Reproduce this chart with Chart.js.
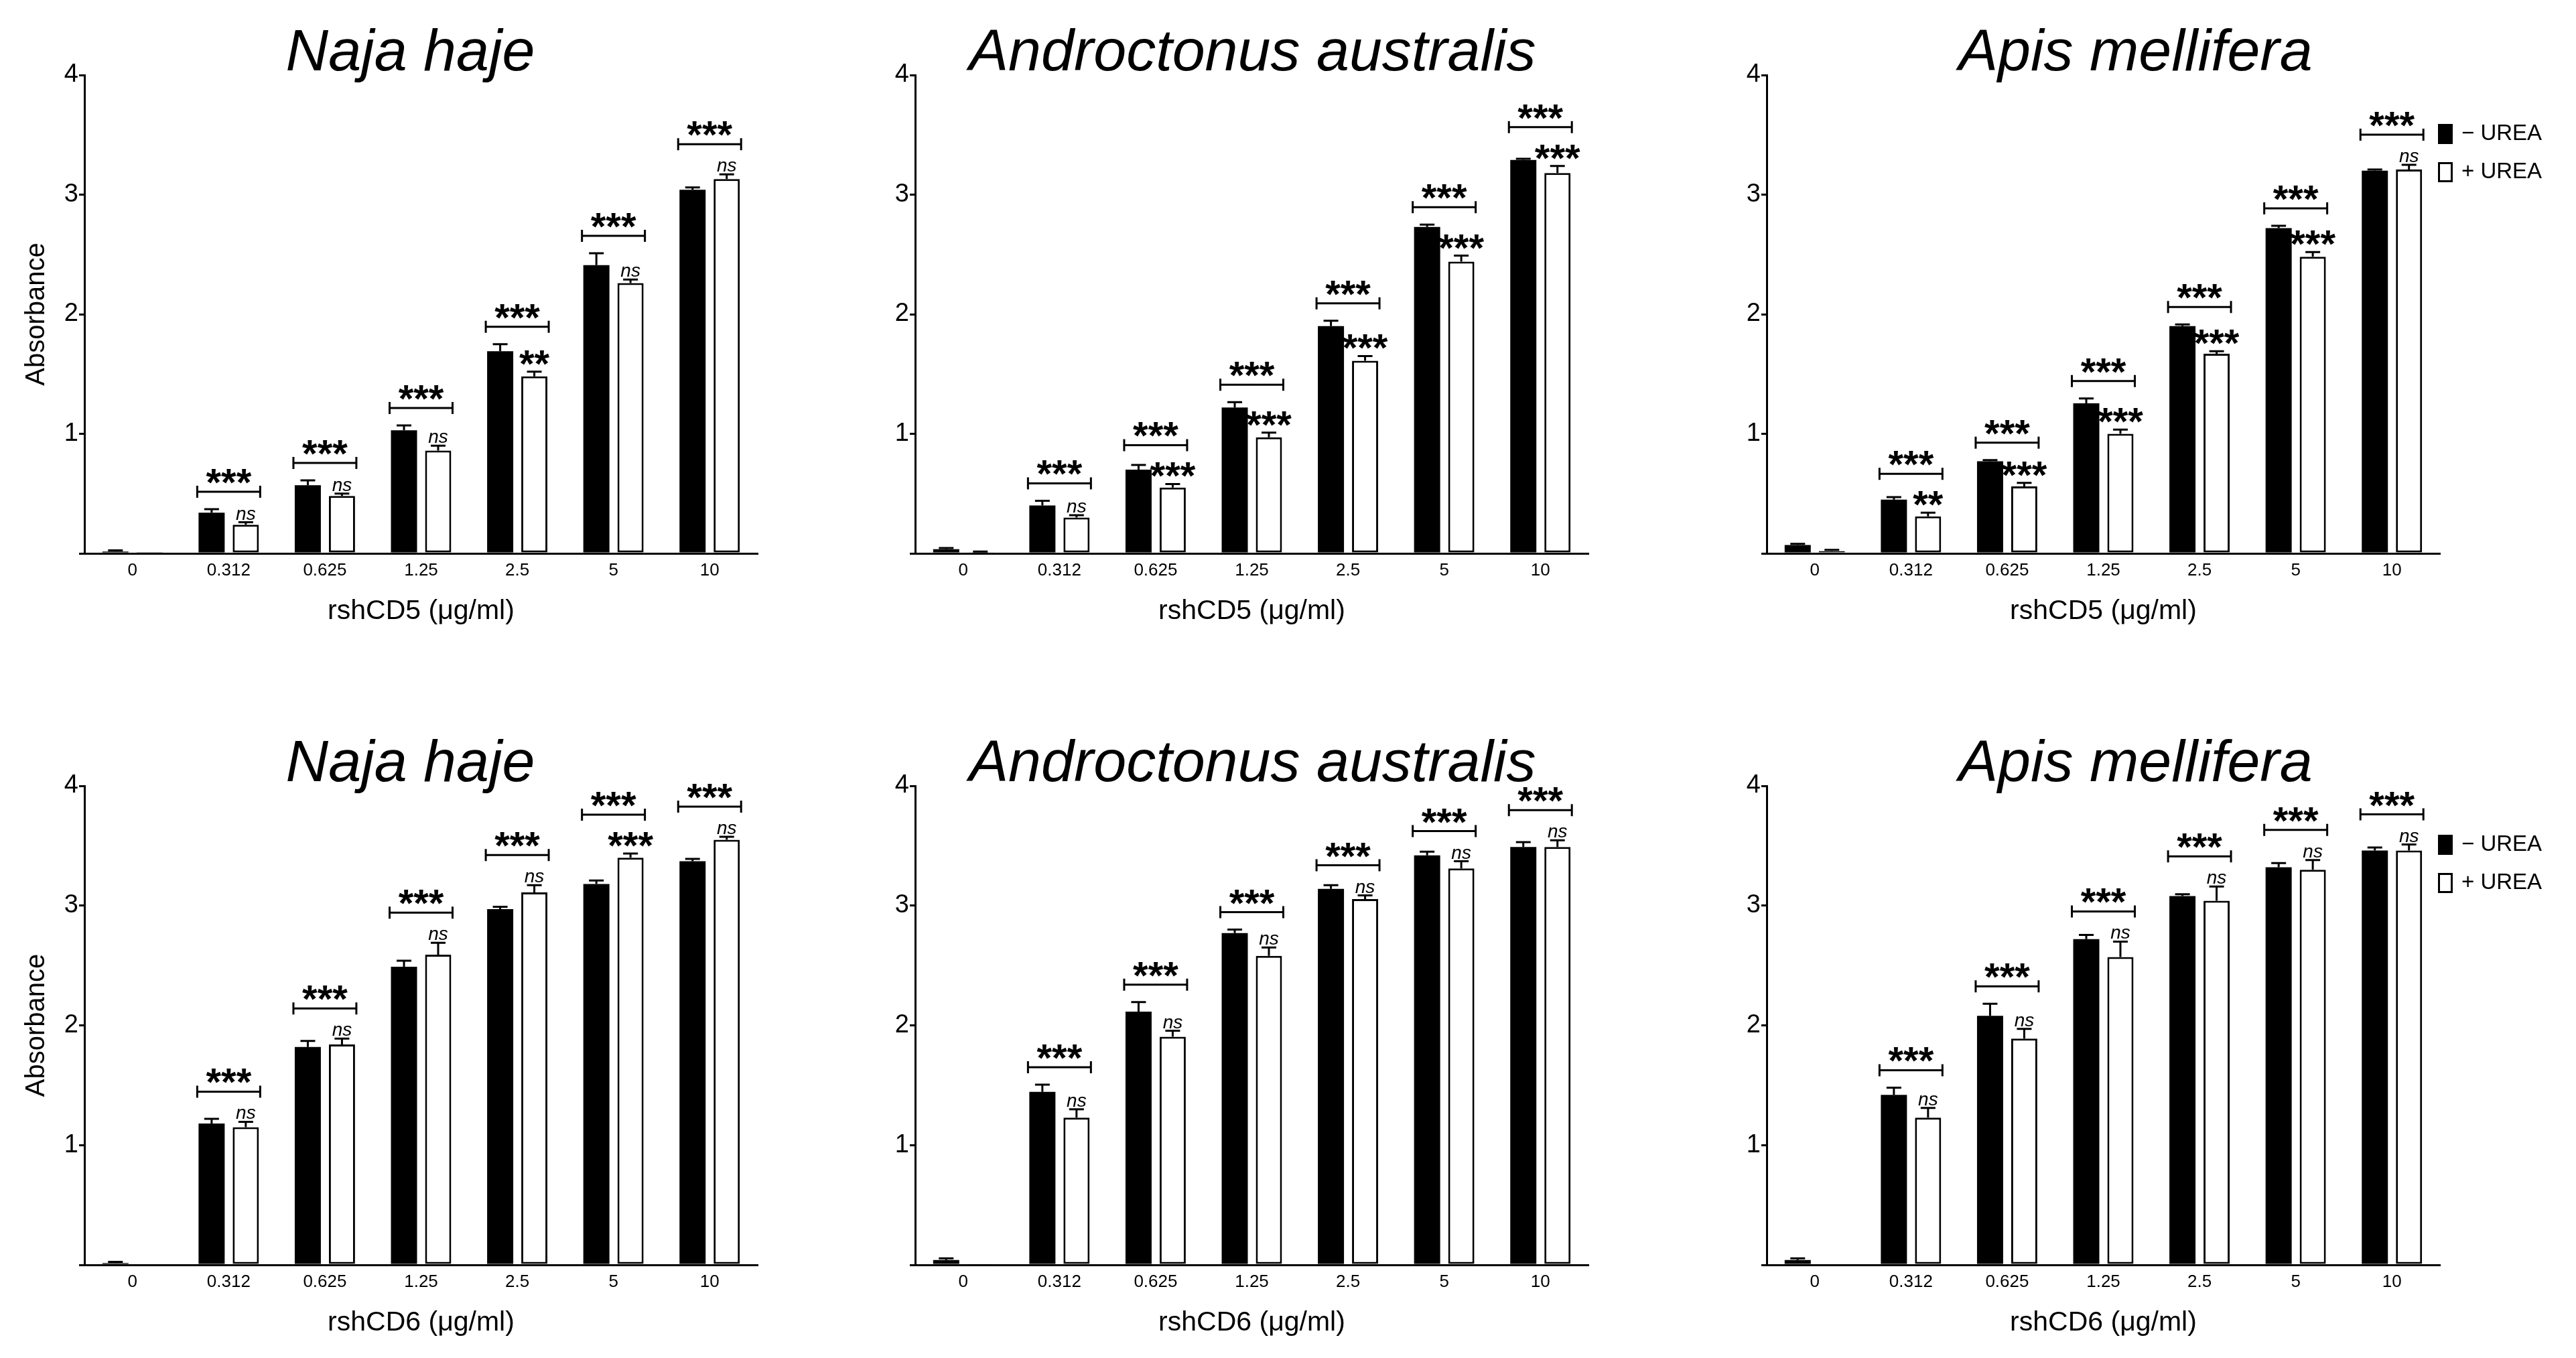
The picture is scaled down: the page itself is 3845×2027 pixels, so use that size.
<!DOCTYPE html>
<html lang="en">
<head>
    <meta charset="UTF-8">
    <title>rshCD5 / rshCD6 - Absorbance</title>
    <script src="https://cdn.jsdelivr.net/npm/chart.js"></script>
    <style>
        html, body { margin: 0; padding: 0; background: #fff; overflow: hidden; }
        #page { position: relative; width: 3845px; height: 2027px; background: #fff; }
        canvas { position: absolute; }
    </style>
</head>
<body>
<div id="page"></div>
<script>
// Categories and labels
const doses = ['0', '0.312', '0.625', '1.25', '2.5', '5', '10'];
const yTicks = [1, 2, 3, 4];
const seriesLabels = ['\u2212 UREA', '+ UREA'];
const species = ['Naja haje', 'Androctonus australis', 'Apis mellifera'];
const xTitles = ['rshCD5 (\u03bcg/ml)', 'rshCD6 (\u03bcg/ml)'];
const pairSig = ['', '***', '***', '***', '***', '***', '***'];

// rshCD5 - Naja haje
const najaCD5Minus = [0.015, 0.34, 0.57, 1.03, 1.69, 2.41, 3.04];
const najaCD5MinusErr = [0.01, 0.03, 0.04, 0.04, 0.06, 0.10, 0.02];
const najaCD5Plus = [0.005, 0.24, 0.48, 0.86, 1.48, 2.26, 3.13];
const najaCD5PlusErr = [0, 0.02, 0.02, 0.04, 0.04, 0.03, 0.04];
const najaCD5Sig = ['', 'ns', 'ns', 'ns', '**', 'ns', 'ns'];

// rshCD5 - Androctonus australis
const andrCD5Minus = [0.035, 0.40, 0.70, 1.22, 1.90, 2.73, 3.29];
const andrCD5MinusErr = [0.01, 0.04, 0.04, 0.045, 0.045, 0.02, 0.01];
const andrCD5Plus = [0.01, 0.30, 0.55, 0.97, 1.61, 2.44, 3.18];
const andrCD5PlusErr = [0.005, 0.02, 0.03, 0.04, 0.04, 0.05, 0.06];
const andrCD5Sig = ['', 'ns', '***', '***', '***', '***', '***'];

// rshCD5 - Apis mellifera
const apisCD5Minus = [0.07, 0.45, 0.77, 1.255, 1.90, 2.72, 3.20];
const apisCD5MinusErr = [0.01, 0.02, 0.01, 0.04, 0.015, 0.02, 0.01];
const apisCD5Plus = [0.02, 0.31, 0.56, 1.00, 1.67, 2.48, 3.21];
const apisCD5PlusErr = [0.01, 0.03, 0.03, 0.035, 0.02, 0.04, 0.04];
const apisCD5Sig = ['', '**', '***', '***', '***', '***', 'ns'];

// rshCD6 - Naja haje
const najaCD6Minus = [0.015, 1.18, 1.82, 2.49, 2.97, 3.18, 3.37];
const najaCD6MinusErr = [0.01, 0.04, 0.05, 0.05, 0.02, 0.03, 0.02];
const najaCD6Plus = [0, 1.15, 1.84, 2.59, 3.11, 3.40, 3.55];
const najaCD6PlusErr = [0, 0.045, 0.05, 0.10, 0.06, 0.035, 0.025];
const najaCD6Sig = ['', 'ns', 'ns', 'ns', 'ns', '***', 'ns'];

// rshCD6 - Androctonus australis
const andrCD6Minus = [0.04, 1.445, 2.115, 2.77, 3.14, 3.42, 3.49];
const andrCD6MinusErr = [0.015, 0.06, 0.08, 0.03, 0.03, 0.03, 0.04];
const andrCD6Plus = [0.01, 1.23, 1.905, 2.58, 3.055, 3.31, 3.49];
const andrCD6PlusErr = [0, 0.07, 0.05, 0.07, 0.03, 0.06, 0.055];
const andrCD6Sig = ['', 'ns', 'ns', 'ns', 'ns', 'ns', 'ns'];

// rshCD6 - Apis mellifera
const apisCD6Minus = [0.04, 1.42, 2.08, 2.72, 3.08, 3.32, 3.46];
const apisCD6MinusErr = [0.015, 0.06, 0.10, 0.035, 0.015, 0.035, 0.025];
const apisCD6Plus = [0, 1.23, 1.89, 2.57, 3.04, 3.30, 3.46];
const apisCD6PlusErr = [0, 0.08, 0.08, 0.13, 0.12, 0.08, 0.05];
const apisCD6Sig = ['', 'ns', 'ns', 'ns', 'ns', 'ns', 'ns'];

const panels = [
    { row: 0, col: 0, minus: najaCD5Minus, minusErr: najaCD5MinusErr, plus: najaCD5Plus, plusErr: najaCD5PlusErr, sig: najaCD5Sig },
    { row: 0, col: 1, minus: andrCD5Minus, minusErr: andrCD5MinusErr, plus: andrCD5Plus, plusErr: andrCD5PlusErr, sig: andrCD5Sig },
    { row: 0, col: 2, minus: apisCD5Minus, minusErr: apisCD5MinusErr, plus: apisCD5Plus, plusErr: apisCD5PlusErr, sig: apisCD5Sig },
    { row: 1, col: 0, minus: najaCD6Minus, minusErr: najaCD6MinusErr, plus: najaCD6Plus, plusErr: najaCD6PlusErr, sig: najaCD6Sig },
    { row: 1, col: 1, minus: andrCD6Minus, minusErr: andrCD6MinusErr, plus: andrCD6Plus, plusErr: andrCD6PlusErr, sig: andrCD6Sig },
    { row: 1, col: 2, minus: apisCD6Minus, minusErr: apisCD6MinusErr, plus: apisCD6Plus, plusErr: apisCD6PlusErr, sig: apisCD6Sig }
];

// layout (pixels)
const FONT = '"Liberation Sans", Arial, Helvetica, sans-serif';
const colLeft = [0, 1240, 2511];
const colWidth = [1240, 1240, 1334];
const rowTop = [0, 1061];
const rowHeight = [1000, 966];
const plotTop = 112;
const plotWidth = 1005;
const yAxisWidth = 126;
const xAxisHeight = 111;
const titleShift = [-16, 1, 48];

// draws text so that the visible glyphs end at "bottom"; returns glyph top
function glyphText(ctx, text, font, x, bottom) {
    ctx.font = font;
    ctx.textAlign = 'center';
    ctx.textBaseline = 'alphabetic';
    const m = ctx.measureText(text);
    ctx.fillText(text, x, bottom - m.actualBoundingBoxDescent);
    return bottom - m.actualBoundingBoxDescent - m.actualBoundingBoxAscent;
}

function overlay(p) {
    const starFont = 'bold 58px ' + FONT;
    const nsFont = 'italic 28px ' + FONT;
    return {
        id: 'overlay',
        afterDatasetsDraw(chart) {
            const ctx = chart.ctx, y = chart.scales.y;
            ctx.save();
            ctx.strokeStyle = '#000';
            ctx.lineWidth = 3;
            [0, 1].forEach(di => {
                const vals = di ? p.plus : p.minus;
                const errs = di ? p.plusErr : p.minusErr;
                chart.getDatasetMeta(di).data.forEach((bar, i) => {
                    if (!errs[i]) return;
                    const top = y.getPixelForValue(vals[i]);
                    const end = y.getPixelForValue(vals[i] + errs[i]);
                    ctx.beginPath();
                    ctx.moveTo(bar.x, top);
                    ctx.lineTo(bar.x, end);
                    ctx.moveTo(bar.x - 11, end);
                    ctx.lineTo(bar.x + 11, end);
                    ctx.stroke();
                });
            });
            ctx.restore();
        },
        afterDraw(chart) {
            const ctx = chart.ctx, y = chart.scales.y, ca = chart.chartArea;
            const black = chart.getDatasetMeta(0).data;
            const white = chart.getDatasetMeta(1).data;
            ctx.save();
            ctx.fillStyle = '#000';
            ctx.strokeStyle = '#000';
            ctx.lineWidth = 3;

            // significance labels and brackets
            p.sig.forEach((s, i) => {
                if (!s) return;
                const wTop = y.getPixelForValue(p.plus[i] + p.plusErr[i]);
                const bTop = y.getPixelForValue(p.minus[i] + p.minusErr[i]);
                const lblTop = s === 'ns'
                    ? glyphText(ctx, s, nsFont, white[i].x, wTop - 4)
                    : glyphText(ctx, s, starFont, white[i].x, wTop - 10);
                if (!pairSig[i]) return;
                const by = Math.min(bTop, lblTop) - 26;
                const x1 = black[i].x - black[i].width / 2 - 2;
                const x2 = white[i].x + white[i].width / 2 + 2;
                ctx.beginPath();
                ctx.moveTo(x1, by); ctx.lineTo(x2, by);
                ctx.moveTo(x1, by - 9); ctx.lineTo(x1, by + 9);
                ctx.moveTo(x2, by - 9); ctx.lineTo(x2, by + 9);
                ctx.stroke();
                glyphText(ctx, pairSig[i], starFont, (x1 + x2) / 2, by - 12);
            });

            // panel title
            ctx.font = 'italic 88px ' + FONT;
            ctx.textAlign = 'center';
            ctx.textBaseline = 'alphabetic';
            ctx.fillText(species[p.col], (ca.left + ca.right) / 2 + titleShift[p.col], ca.top - 7);

            // legend on the right-hand panels
            if (p.col === 2) {
                ctx.font = '33px ' + FONT;
                ctx.textAlign = 'left';
                ctx.textBaseline = 'middle';
                chart.data.datasets.forEach((ds, di) => {
                    const cy = ca.top + (di ? 145 : 88);
                    const bx = ca.right - 3;
                    ctx.lineWidth = 3;
                    if (di) {
                        ctx.fillStyle = '#fff';
                        ctx.fillRect(bx + 1.5, cy - 13.5, 19, 27);
                        ctx.strokeRect(bx + 1.5, cy - 13.5, 19, 27);
                    } else {
                        ctx.fillStyle = '#000';
                        ctx.fillRect(bx, cy - 15, 22, 30);
                    }
                    ctx.fillStyle = '#000';
                    ctx.fillText(ds.label, bx + 35, cy);
                });
            }
            ctx.restore();
        }
    };
}

const page = document.getElementById('page');

panels.forEach(p => {
    const canvas = document.createElement('canvas');
    const w = colWidth[p.col], h = rowHeight[p.row];
    canvas.width = w;
    canvas.height = h;
    canvas.style.left = colLeft[p.col] + 'px';
    canvas.style.top = rowTop[p.row] + 'px';
    canvas.style.width = w + 'px';
    canvas.style.height = h + 'px';
    page.appendChild(canvas);

    const plotBottom = p.row === 0 ? 826 : 827;
    new Chart(canvas.getContext('2d'), {
        type: 'bar',
        data: {
            labels: doses,
            datasets: [
                {
                    label: seriesLabels[0],
                    data: p.minus,
                    backgroundColor: '#000',
                    borderWidth: 0,
                    categoryPercentage: 0.71,
                    barPercentage: 0.765
                },
                {
                    label: seriesLabels[1],
                    data: p.plus,
                    backgroundColor: '#fff',
                    borderColor: '#000',
                    borderWidth: 3,
                    borderSkipped: false,
                    categoryPercentage: 0.71,
                    barPercentage: 0.765
                }
            ]
        },
        options: {
            responsive: false,
            animation: false,
            devicePixelRatio: 1,
            layout: {
                padding: {
                    left: 0,
                    top: plotTop,
                    right: w - yAxisWidth - plotWidth,
                    bottom: h - plotBottom - xAxisHeight
                }
            },
            plugins: {
                legend: { display: false },
                tooltip: { enabled: false },
                title: { display: false }
            },
            scales: {
                x: {
                    grid: { display: false, drawTicks: false },
                    border: { display: true, color: '#000', width: 3 },
                    ticks: {
                        color: '#000',
                        font: { family: FONT, size: 26 },
                        padding: 10,
                        maxRotation: 0,
                        autoSkip: false
                    },
                    title: {
                        display: true,
                        text: xTitles[p.row],
                        color: '#000',
                        font: { family: FONT, size: 41 },
                        padding: { top: 0, bottom: 0 }
                    },
                    afterFit: s => { s.height = xAxisHeight; }
                },
                y: {
                    min: 0,
                    max: 4,
                    afterBuildTicks: s => { s.ticks = [0].concat(yTicks).map(v => ({ value: v })); },
                    grid: {
                        drawOnChartArea: false,
                        drawTicks: true,
                        tickLength: 8,
                        lineWidth: 3,
                        color: '#000'
                    },
                    border: { display: true, color: '#000', width: 3 },
                    ticks: {
                        color: '#000',
                        font: { family: FONT, size: 38 },
                        padding: 1,
                        callback: v => (v === 0 ? '' : v)
                    },
                    title: {
                        display: p.col === 0,
                        text: 'Absorbance',
                        color: '#000',
                        font: { family: FONT, size: 40 },
                        padding: { top: 31, bottom: 0 }
                    },
                    afterFit: s => { s.width = yAxisWidth; }
                }
            }
        },
        plugins: [overlay(p)]
    });
});
</script>
</body>
</html>
